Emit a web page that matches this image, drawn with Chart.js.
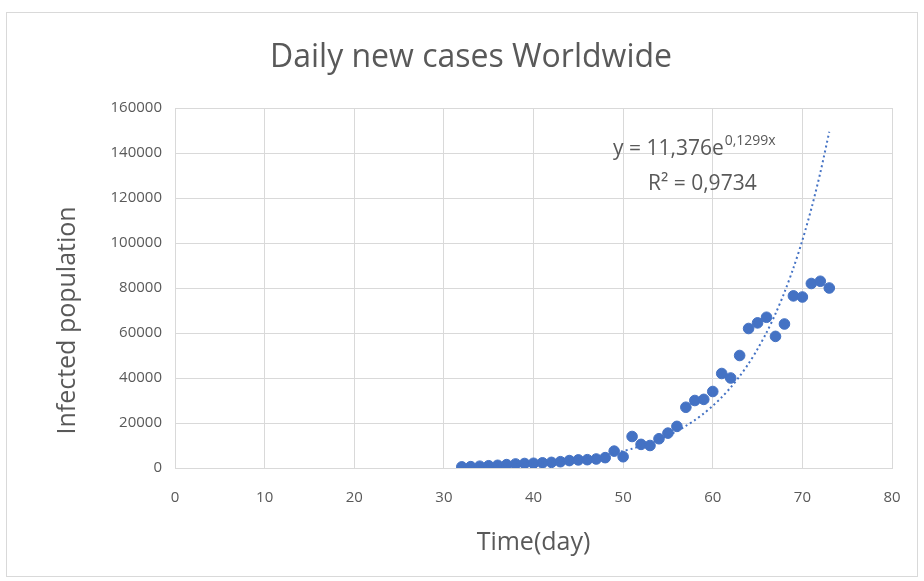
<!DOCTYPE html>
<html>
<head>
<meta charset="utf-8">
<script src="https://cdn.jsdelivr.net/npm/chart.js@4/dist/chart.umd.min.js"></script>
<style>
  html, body { margin: 0; padding: 0; background: #ffffff; }
  #wrap { position: relative; width: 924px; height: 581px; }
  canvas { display: block; }
</style>
</head>
<body>
<div id="wrap"><canvas id="c" width="924" height="581"></canvas></div>
<script>
// ---- data ----
const chartTitle = "Daily new cases Worldwide";
const xTitle = "Time(day)";
const yTitle = "Infected population";
const days = [32,33,34,35,36,37,38,39,40,41,42,43,44,45,46,47,48,49,50,51,52,53,54,55,56,57,58,59,60,61,62,63,64,65,66,67,68,69,70,71,72,73];
const newCases = [500,600,800,1000,1200,1500,1800,2000,2100,2300,2500,2800,3300,3600,3700,4000,4600,7500,5000,14000,10500,10000,13000,15500,18500,27000,30000,30500,34000,42000,40000,50000,62000,64500,67000,58500,64000,76500,76000,82000,83000,80000];
const trendValues = [727,828,943,1073,1222,1392,1585,1805,2055,2340,2665,3034,3455,3935,4480,5102,5810,6615,7533,8578,9768,11123,12666,14423,16423,18701,21295,24249,27612,31442,35803,40769,46424,52863,60195,68544,78051,88877,101204,115241,131225,149426];
const equationMain = "y = 11,376e";
const equationExp = "0,1299x";
const rSquaredText = "R² = 0,9734";
const xTicks = {min: 0, max: 80, step: 10};
const yTicks = {min: 0, max: 160000, step: 20000};

// ---- styling ----
const FONT = "'Open Sans', 'Noto Sans', sans-serif";
const TEXT = "#595959";
const GRID = "#d9d9d9";
const BLUE = "#4472C4";

const scatterPoints = days.map((d, i) => ({x: d, y: newCases[i]}));
const trendPoints = days.map((d, i) => ({x: d, y: trendValues[i]}));

const frame = {
  id: 'frame',
  beforeDraw(chart) {
    const ctx = chart.ctx;
    ctx.save();
    ctx.fillStyle = '#ffffff';
    ctx.fillRect(0, 0, chart.width, chart.height);
    ctx.strokeStyle = GRID;
    ctx.lineWidth = 1;
    ctx.strokeRect(6.5, 12.5, 911, 564);
    ctx.restore();
  }
};

const equation = {
  id: 'equation',
  afterDatasetsDraw(chart) {
    const ctx = chart.ctx;
    ctx.save();
    ctx.fillStyle = TEXT;
    ctx.textBaseline = 'middle';
    ctx.textAlign = 'left';
    ctx.font = "21px " + FONT;
    const x0 = 613, y0 = 149;
    ctx.fillText(equationMain, x0, y0);
    const w = ctx.measureText(equationMain).width;
    ctx.font = "14px " + FONT;
    ctx.fillText(equationExp, x0 + w + 1, y0 - 8);
    ctx.font = "21px " + FONT;
    ctx.fillText(rSquaredText, 648, 184);
    ctx.restore();
  }
};

new Chart(document.getElementById('c'), {
  type: 'scatter',
  data: {
    datasets: [
      {
        label: 'trend',
        type: 'line',
        data: trendPoints,
        borderColor: BLUE,
        borderWidth: 2,
        borderDash: [2, 3],
        pointRadius: 0,
        fill: false,
        tension: 0.3,
        order: 0
      },
      {
        label: 'cases',
        data: scatterPoints,
        backgroundColor: BLUE,
        borderColor: BLUE,
        pointRadius: 5.3,
        pointHoverRadius: 5.3,
        order: 1
      }
    ]
  },
  options: {
    responsive: false,
    animation: false,
    events: [],
    layout: { padding: { left: 50, right: 32, top: 12, bottom: 12 } },
    plugins: {
      legend: { display: false },
      tooltip: { enabled: false },
      title: {
        display: true,
        text: chartTitle,
        color: TEXT,
        font: { family: FONT, size: 32, weight: 'normal', lineHeight: 1.2 },
        padding: { top: 27, bottom: 30.6 }
      }
    },
    scales: {
      x: {
        type: 'linear',
        min: xTicks.min, max: xTicks.max,
        ticks: { stepSize: xTicks.step, color: TEXT, padding: 21, font: { family: FONT, size: 15 } },
        grid: { color: GRID, drawTicks: false },
        border: { color: GRID },
        title: {
          display: true, text: xTitle, color: TEXT,
          font: { family: FONT, size: 25, lineHeight: 1.2 },
          padding: { top: 0, bottom: 11 }
        },
        afterFit(scale) { scale.height = 101; }
      },
      y: {
        type: 'linear',
        min: yTicks.min, max: yTicks.max,
        ticks: {
          stepSize: yTicks.step, color: TEXT, padding: 13,
          font: { family: FONT, size: 15 },
          callback: (v) => String(v)
        },
        grid: { color: GRID, drawTicks: false },
        border: { color: GRID },
        title: {
          display: true, text: yTitle + "          ", color: TEXT,
          font: { family: FONT, size: 25, lineHeight: 1.2 },
          padding: { top: 3, bottom: 0 }
        },
        afterFit(scale) { scale.width = 125; }
      }
    }
  },
  plugins: [frame, equation]
});
</script>
</body>
</html>
